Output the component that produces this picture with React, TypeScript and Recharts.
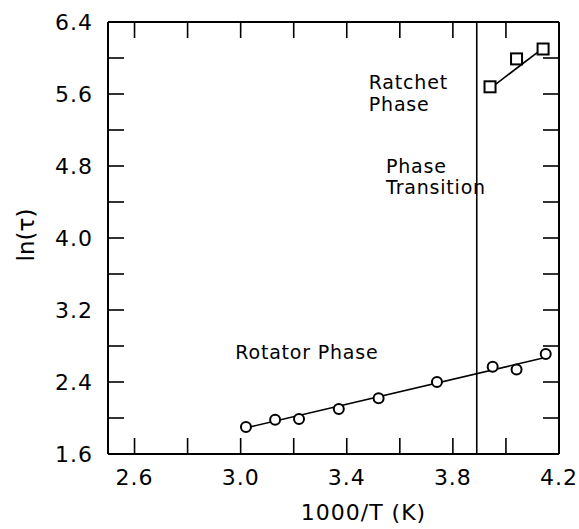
import React from 'react';
import {
  ScatterChart,
  Scatter,
  XAxis,
  YAxis,
  ReferenceLine,
  ReferenceDot,
} from 'recharts';

// rotator phase points (circles)
const rotatorX = [3.02, 3.13, 3.22, 3.37, 3.52, 3.74, 3.95, 4.04, 4.15];
const rotatorY = [1.9, 1.98, 1.99, 2.1, 2.22, 2.4, 2.57, 2.54, 2.71];
// ratchet phase points (squares)
const ratchetX = [3.94, 4.04, 4.14];
const ratchetY = [5.68, 5.99, 6.1];
// fitted lines, end points
const rotatorFitX = [3.02, 4.16];
const rotatorFitY = [1.89, 2.68];
const ratchetFitX = [3.94, 4.14];
const ratchetFitY = [5.66, 6.11];

const transitionX = 3.89;

const xTicks = [2.6, 2.8, 3.0, 3.2, 3.4, 3.6, 3.8, 4.0, 4.2];
const xLabelled = [2.6, 3.0, 3.4, 3.8, 4.2];
const yTicks = [1.6, 2.0, 2.4, 2.8, 3.2, 3.6, 4.0, 4.4, 4.8, 5.2, 5.6, 6.0, 6.4];
const yLabelled = [1.6, 2.4, 3.2, 4.0, 4.8, 5.6, 6.4];

const notes = [
  { x: 3.483, y: 5.73, text: 'Ratchet' },
  { x: 3.483, y: 5.49, text: 'Phase' },
  { x: 3.548, y: 4.8, text: 'Phase' },
  { x: 3.548, y: 4.57, text: 'Transition' },
  { x: 2.98, y: 2.73, text: 'Rotator Phase' },
];

const zip = (xs: number[], ys: number[]) => xs.map((x, i) => ({ x, y: ys[i] }));

const FONT = '"DejaVu Sans", sans-serif';
const TICK = 16;
const INK = '#000';

const BottomTick = ({ x, y, payload }: any) => (
  <g>
    <line x1={x} y1={y} x2={x} y2={y - TICK} stroke={INK} strokeWidth={1.6} />
    {xLabelled.includes(payload.value) && (
      <text x={x} y={y + 31} textAnchor="middle" fontSize={22} fontFamily={FONT} letterSpacing={1} fill={INK}>
        {payload.value.toFixed(1)}
      </text>
    )}
  </g>
);

const TopTick = ({ x, y }: any) => (
  <line x1={x} y1={y} x2={x} y2={y + TICK} stroke={INK} strokeWidth={1.6} />
);

const LeftTick = ({ x, y, payload }: any) => (
  <g>
    <line x1={x} y1={y} x2={x + TICK} y2={y} stroke={INK} strokeWidth={1.6} />
    {yLabelled.includes(payload.value) && (
      <text x={x - 15} y={y + 8} textAnchor="end" fontSize={22} fontFamily={FONT} letterSpacing={1} fill={INK}>
        {payload.value.toFixed(1)}
      </text>
    )}
  </g>
);

const RightTick = ({ x, y }: any) => (
  <line x1={x} y1={y} x2={x - TICK} y2={y} stroke={INK} strokeWidth={1.6} />
);

const Circle = ({ cx, cy }: any) => (
  <circle cx={cx} cy={cy} r={5} fill="#fff" stroke={INK} strokeWidth={2} />
);

const Square = ({ cx, cy }: any) => (
  <rect x={cx - 5.5} y={cy - 5.5} width={11} height={11} fill="#fff" stroke={INK} strokeWidth={2} />
);

const NoDot = () => <g />;

export default function App() {
  return (
    <div style={{ position: 'absolute', left: 0, top: 0, background: '#fff' }}>
      <ScatterChart width={579} height={529} margin={{ top: 21, right: 19, bottom: 0, left: 0 }}>
        <XAxis
          dataKey="x"
          type="number"
          domain={[2.5, 4.2]}
          ticks={xTicks}
          interval={0}
          height={75}
          tickSize={0}
          tickMargin={0}
          tickLine={false}
          axisLine={{ stroke: INK, strokeWidth: 2 }}
          tick={<BottomTick />}
          allowDataOverflow
          label={{
            content: ({ viewBox }: any) => (
              <text
                x={viewBox.x + viewBox.width / 2 + 30}
                y={viewBox.y + 66}
                textAnchor="middle"
                fontSize={22}
                fontFamily={FONT}
                letterSpacing={1}
                fill={INK}
              >
                1000/T (K)
              </text>
            ),
          }}
        />
        <XAxis
          xAxisId="top"
          orientation="top"
          dataKey="x"
          type="number"
          domain={[2.5, 4.2]}
          ticks={xTicks}
          interval={0}
          height={1}
          tickSize={0}
          tickMargin={0}
          tickLine={false}
          axisLine={{ stroke: INK, strokeWidth: 2 }}
          tick={<TopTick />}
          allowDataOverflow
        />
        <YAxis
          dataKey="y"
          type="number"
          domain={[1.6, 6.4]}
          ticks={yTicks}
          interval={0}
          width={108}
          tickSize={0}
          tickMargin={0}
          tickLine={false}
          axisLine={{ stroke: INK, strokeWidth: 2 }}
          tick={<LeftTick />}
          allowDataOverflow
          label={{
            content: ({ viewBox }: any) => {
              const lx = 34;
              const ly = viewBox.y + viewBox.height / 2 - 3;
              return (
                <text
                  x={lx}
                  y={ly}
                  transform={`rotate(-90, ${lx}, ${ly})`}
                  textAnchor="middle"
                  fontSize={23}
                  fontFamily={FONT}
                  fill={INK}
                >
                  ln(τ)
                </text>
              );
            },
          }}
        />
        <YAxis
          yAxisId="right"
          orientation="right"
          dataKey="y"
          type="number"
          domain={[1.6, 6.4]}
          ticks={yTicks}
          interval={0}
          width={1}
          tickSize={0}
          tickMargin={0}
          tickLine={false}
          axisLine={{ stroke: INK, strokeWidth: 2 }}
          tick={<RightTick />}
          allowDataOverflow
        />
        <ReferenceLine x={transitionX} stroke={INK} strokeWidth={1.6} />
        {notes.map((n, i) => (
          <ReferenceDot
            key={i}
            x={n.x}
            y={n.y}
            r={0}
            stroke="none"
            label={{
              content: ({ viewBox }: any) => (
                <text
                  x={viewBox.x}
                  y={viewBox.y + 7}
                  fontSize={19}
                  fontFamily={FONT}
                  letterSpacing={0.8}
                  fill={INK}
                >
                  {n.text}
                </text>
              ),
            }}
          />
        ))}
        <Scatter
          data={zip(rotatorFitX, rotatorFitY)}
          line={{ stroke: INK, strokeWidth: 1.6 }}
          shape={<NoDot />}
          isAnimationActive={false}
        />
        <Scatter
          data={zip(ratchetFitX, ratchetFitY)}
          line={{ stroke: INK, strokeWidth: 1.6 }}
          shape={<NoDot />}
          isAnimationActive={false}
        />
        <Scatter data={zip(rotatorX, rotatorY)} shape={<Circle />} isAnimationActive={false} />
        <Scatter data={zip(ratchetX, ratchetY)} shape={<Square />} isAnimationActive={false} />
        {/* invisible series tying the mirror axes to the frame */}
        <Scatter
          xAxisId="top"
          yAxisId="right"
          data={zip(ratchetX, ratchetY)}
          shape={<NoDot />}
          isAnimationActive={false}
        />
      </ScatterChart>
    </div>
  );
}
